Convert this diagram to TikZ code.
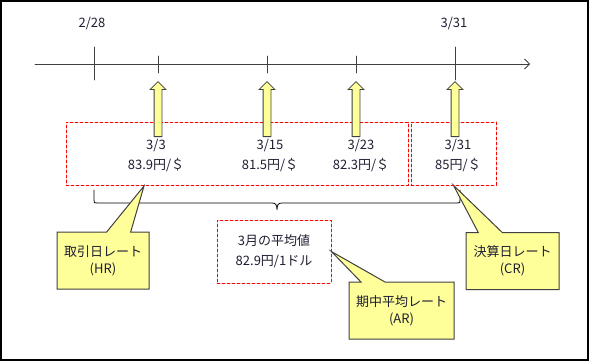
\documentclass[tikz,border=0pt]{standalone}
\usepackage{fontspec}
\setmainfont{Noto Sans CJK JP}
\usepackage{tikz}
\usetikzlibrary{arrows.meta,shapes.arrows,shapes.callouts}
\definecolor{notepad}{RGB}{255,255,153}
\definecolor{edge}{RGB}{64,64,64}
\definecolor{ink}{RGB}{30,30,50}
\definecolor{dashred}{RGB}{255,0,0}

\begin{document}
\begin{tikzpicture}[x=1pt,y=-1pt,>={Straight Barb[length=5pt,width=10pt]},line cap=round,
  font=\fontsize{13}{20}\selectfont,text=ink,
  ratebox/.style={draw=dashred,dash pattern=on 3pt off 2pt,line width=0.8pt,inner sep=0pt,minimum height=63pt},
  uparrow/.style={single arrow,draw=edge,fill=notepad,line width=0.8pt,rotate=90,anchor=tail,
    inner xsep=0pt,inner ysep=3.5pt,single arrow head extend=4pt,minimum height=55pt},
  note/.style={rectangle callout,draw=edge,fill=notepad,line width=1pt,align=center,
    callout pointer width=24pt,minimum height=57pt,font=\fontsize{13}{17}\selectfont}]
\useasboundingbox (0,0) rectangle (590,362);
\draw[black,line width=1.5pt] (1,1) rectangle (588,360);
% time axis
\coordinate (start) at (35,64);
\coordinate (end) at (530,64);
\draw[->,edge,line width=0.8pt] (start) -- (end);
\foreach \x in {158,267,356} \draw[edge,line width=0.8pt] (\x,56) -- (\x,73);
\foreach \x in {94,455} \draw[edge,line width=0.8pt] (\x,47) -- (\x,80);
\node (d228) at (92,24) {2/28};
\node (d331) at (454,24) {3/31};
% rate boxes
\node[ratebox,minimum width=342pt] (trade) at (237,153.5) {};
\node[ratebox,minimum width=85pt] (close) at (453.5,153.5) {};
\foreach \x in {158,267,356,455} \node[uparrow] (up\x) at (\x,137) {};
\node[align=center] (r3) at (156,155) {3/3\\83.9円/＄};
\node[align=center] (r15) at (270,155) {3/15\\81.5円/＄};
\node[align=center] (r23) at (361,155) {3/23\\82.3円/＄};
\node[align=center] (r31) at (458,155) {3/31\\85円/＄};
% brace
\draw[black,line width=0.8pt] (94,190) -- (94,200) .. controls (94,203) .. (97,203) -- (272,203)
  .. controls (276,203) and (277,205) .. (277,210)
  .. controls (277,205) and (278,203) .. (282,203) -- (457,203)
  .. controls (460,203) .. (460,200) -- (460,190);
\node[ratebox,minimum width=114pt,align=center] (avg) at (274,251.5) {3月の平均値\\82.9円/1ドル};
% callouts
\coordinate (hrtip) at (144,186);
\node[note,minimum width=92pt,callout absolute pointer={(hrtip)}] (hr) at (103,260.5) {取引日レート\\(HR)};
\node[note,minimum width=93pt,callout absolute pointer={(close.south)}] (cr) at (512.5,261) {決算日レート\\(CR)};
\node[note,minimum width=105pt,callout absolute pointer={(avg.east)}] (ar) at (401.5,310.5) {期中平均レート\\(AR)};
\end{tikzpicture}
\end{document}
